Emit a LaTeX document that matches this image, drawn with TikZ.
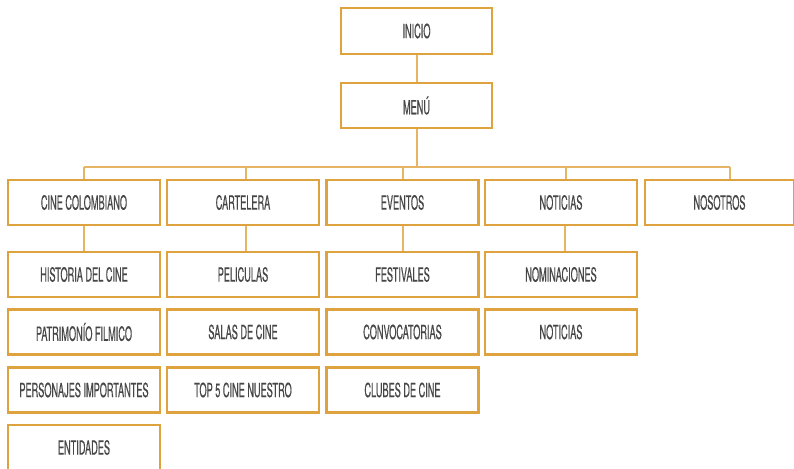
\documentclass[tikz,border=0pt]{standalone}
\usepackage{fontspec}
\setmainfont[FakeStretch=0.47,FakeBold=0.4]{TeX Gyre Heros}
\definecolor{boxline}{RGB}{222,162,62}
\definecolor{conline}{RGB}{230,180,100}
\definecolor{txt}{RGB}{70,70,70}
\tikzset{
  menubox/.style={draw=boxline, line width=2.2pt, fill=white, minimum width=152pt, minimum height=45pt,
    inner sep=0pt, text=txt, font=\fontsize{19.5}{19.5}\selectfont},
  conn/.style={draw=conline, line width=2pt}
}
\begin{document}
\begin{tikzpicture}[x=1pt,y=-1pt]
\useasboundingbox (0,0) rectangle (794,468);
\clip (0,0) rectangle (794,468);
\fill[white] (0,0) rectangle (794,468);
\coordinate (busL) at (84,166.5);
\coordinate (busR) at (730,166.5);
\coordinate (busM) at (416.5,166.5);
\node[menubox, minimum width=151pt, minimum height=46pt] (inicio) at (416.5,31) {INICIO};
\node[menubox, minimum width=151pt] (menu) at (416.5,105.5) {MENÚ};
% row 1
\node[menubox] (cine) at (84,202.5) {CINE COLOMBIANO};
\node[menubox] (cart) at (243,202.5) {CARTELERA};
\node[menubox] (even) at (402.5,202.5) {EVENTOS};
\node[menubox] (noti) at (561,202.5) {NOTICIAS};
\node[menubox, minimum width=149pt] (noso) at (719.5,202.5) {NOSOTROS};
% row 2
\node[menubox] (hist) at (84,274.5) {HISTORIA DEL CINE};
\node[menubox] (peli) at (243,274.5) {PELICULAS};
\node[menubox] (fest) at (402.5,274.5) {FESTIVALES};
\node[menubox] (nomi) at (561,274.5) {NOMINACIONES};
% row 3
\node[menubox] (patr) at (84,332) {PATRIMONÍO FILMICO};
\node[menubox] (sala) at (243,332) {SALAS DE CINE};
\node[menubox] (conv) at (402.5,332) {CONVOCATORIAS};
\node[menubox] (noti2) at (561,332) {NOTICIAS};
% row 4
\node[menubox] (pers) at (84,390) {PERSONAJES IMPORTANTES};
\node[menubox] (top) at (243,390) {TOP 5 CINE NUESTRO};
\node[menubox] (club) at (402.5,390) {CLUBES DE CINE};
% row 5
\node[menubox] (enti) at (84,447.5) {ENTIDADES};
% connectors
\draw[conn] (inicio.south) -- (menu.north);
\draw[conn] (menu.south) -- (busM);
\draw[conn] (busL) -- (busR);
\draw[conn] (busL) -- (cine.north);
\draw[conn] ([xshift=3pt]cart.north |- busL) -- ([xshift=3pt]cart.north);
\draw[conn] (even.north |- busL) -- (even.north);
\draw[conn] ([xshift=5pt]noti.north |- busL) -- ([xshift=5pt]noti.north);
\draw[conn] (busR) -- (busR |- noso.north);
\draw[conn] (cine.south) -- (hist.north);
\draw[conn] ([xshift=3pt]cart.south) -- ([xshift=3pt]peli.north);
\draw[conn] (even.south) -- (fest.north);
\draw[conn] ([xshift=4pt]noti.south) -- ([xshift=4pt]nomi.north);
\end{tikzpicture}
\end{document}
